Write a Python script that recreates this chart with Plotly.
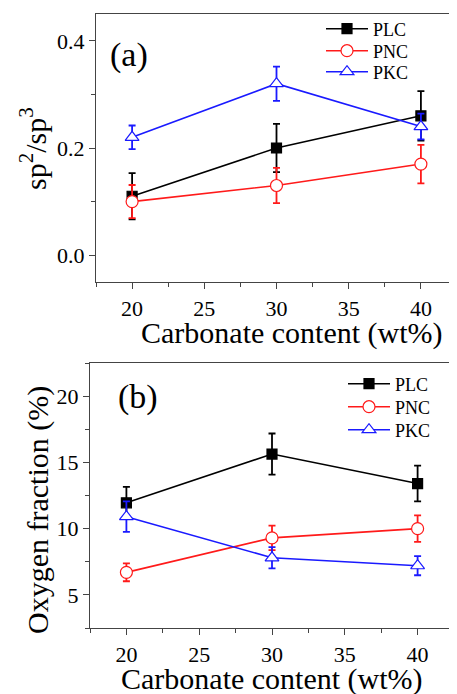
import plotly.graph_objects as go

# ---------------- data ----------------
carbonate = [20, 30, 40]

# panel (a): sp2/sp3 ratio
a_plc = [0.11, 0.20, 0.26]
a_plc_err = [0.043, 0.045, 0.046]
a_pnc = [0.10, 0.13, 0.17]
a_pnc_err = [0.031, 0.033, 0.036]
a_pkc = [0.22, 0.32, 0.24]
a_pkc_err = [0.022, 0.032, 0.024]

# panel (b): oxygen fraction (%)
b_plc = [11.95, 15.63, 13.4]
b_plc_err = [1.2, 1.55, 1.35]
b_pnc = [6.7, 9.3, 10.0]
b_pnc_err = [0.67, 0.92, 1.0]
b_pkc = [10.9, 7.8, 7.2]
b_pkc_err = [1.15, 0.8, 0.72]

series_names = ["PLC", "PNC", "PKC"]

# ---------------- layout helpers ----------------
# the page body has an 8px margin, so the figure is shifted by 8px
OFF = 8
W, H = 457 - OFF, 694 - OFF
ML, MR, MT, MB = 90 - OFF, 0, 14 - OFF, 66
PW, PH = W - ML - MR, H - MT - MB


def px(x):
    return (x - OFF - ML) / PW


def py(y):
    return 1 - (y - OFF - MT) / PH


FONT = "Liberation Serif"
styles = [
    dict(color="#000000", symbol="square", fill="#000000", size=10),
    dict(color="#ff1a1a", symbol="circle", fill="#ffffff", size=12),
    dict(color="#1a1aff", symbol="triangle-up", fill="#ffffff", size=12),
]

fig = go.Figure()

top_data = [(a_plc, a_plc_err), (a_pnc, a_pnc_err), (a_pkc, a_pkc_err)]
bot_data = [(b_plc, b_plc_err), (b_pnc, b_pnc_err), (b_pkc, b_pkc_err)]

# one single-entry legend per series, so that each row sits where the reference has it
top_rows = [29, 51, 72]
bot_rows = [384, 407, 430]
legends = {}
ITEMW = 42


def add_series(data, xa, ya, start_idx, rows, text_x):
    for i, (name, (vals, errs), st) in enumerate(zip(series_names, data, styles)):
        idx = start_idx + i
        lname = "legend" if idx == 1 else f"legend{idx}"
        legends[lname] = dict(
            x=px(text_x - ITEMW - 10), y=py(rows[i]), xanchor="left", yanchor="middle",
            font=dict(family=FONT, size=18, color="#000000"),
            bgcolor="rgba(0,0,0,0)", itemwidth=ITEMW,
        )
        fig.add_trace(go.Scatter(
            x=carbonate, y=vals, name=name, mode="lines+markers",
            xaxis=xa, yaxis=ya, legend=lname,
            line=dict(color=st["color"], width=1.6),
            marker=dict(symbol=st["symbol"], size=st["size"],
                        color=st["fill"], line=dict(color=st["color"], width=1.2)),
            error_y=dict(type="data", array=errs, color=st["color"], thickness=1.8, width=3.5),
        ))


add_series(top_data, "x", "y", 1, top_rows, 373)
add_series(bot_data, "x2", "y2", 4, bot_rows, 395)

axis_common = dict(
    showgrid=False, zeroline=False, showline=True, linecolor="#444444", linewidth=1.3,
    ticks="outside", ticklen=6, tickwidth=1.2, tickcolor="#444444", automargin=False,
    tickfont=dict(family=FONT, size=22, color="#000000"),
)
minor_common = dict(ticks="outside", ticklen=4, tickwidth=1, tickcolor="#444444")

fig.update_layout(
    template="none",
    font=dict(family=FONT, color="#000000"),
    width=W, height=H,
    margin=dict(l=ML, r=MR, t=MT, b=MB),
    paper_bgcolor="white", plot_bgcolor="white",
    showlegend=True,
    xaxis=dict(domain=[px(96), 1.0], range=[17.5, 42.5], anchor="y",
               tickvals=[20, 25, 30, 35, 40], mirror=True,
               minor=dict(dtick=2.5, tick0=17.5, **minor_common),
               **axis_common),
    yaxis=dict(domain=[py(282), py(14)], range=[-0.05, 0.45], anchor="x",
               tickvals=[0.0, 0.2, 0.4], ticktext=["0.0", "0.2", "0.4"], mirror=True,
               minor=dict(dtick=0.1, tick0=0, **minor_common),
               **axis_common),
    xaxis2=dict(domain=[0.0, px(454)], range=[17.5, 42.5], anchor="y2",
                tickvals=[20, 25, 30, 35, 40], mirror=True,
                minor=dict(dtick=2.5, tick0=17.5, **minor_common),
                **axis_common),
    yaxis2=dict(domain=[py(628), py(363)], range=[2.5, 22.5], anchor="x2",
                tickvals=[5, 10, 15, 20], mirror=True,
                minor=dict(dtick=2.5, tick0=2.5, **minor_common),
                **axis_common),
    annotations=[
        dict(text="Carbonate content (wt%)", x=px(292), y=py(333), xref="paper", yref="paper",
             showarrow=False, xanchor="center", yanchor="middle",
             font=dict(family=FONT, size=30, color="#000000")),
        dict(text="Carbonate content (wt%)", x=px(272), y=py(679), xref="paper", yref="paper",
             showarrow=False, xanchor="center", yanchor="middle",
             font=dict(family=FONT, size=30, color="#000000")),
        dict(text="sp<sup>2</sup>/sp<sup>3</sup>", x=px(33), y=py(149), xref="paper", yref="paper",
             showarrow=False, xanchor="center", yanchor="middle", textangle=-90,
             font=dict(family=FONT, size=30, color="#000000")),
        dict(text="Oxygen fraction (%)", x=px(38), y=py(510), xref="paper", yref="paper",
             showarrow=False, xanchor="center", yanchor="middle", textangle=-90,
             font=dict(family=FONT, size=30, color="#000000")),
        dict(text="(a)", x=px(129), y=py(55), xref="paper", yref="paper",
             showarrow=False, xanchor="center", yanchor="middle",
             font=dict(family=FONT, size=34, color="#000000")),
        dict(text="(b)", x=px(138), y=py(397), xref="paper", yref="paper",
             showarrow=False, xanchor="center", yanchor="middle",
             font=dict(family=FONT, size=34, color="#000000")),
    ],
)
fig.update_layout(**legends)

fig.write_html("out.html")
